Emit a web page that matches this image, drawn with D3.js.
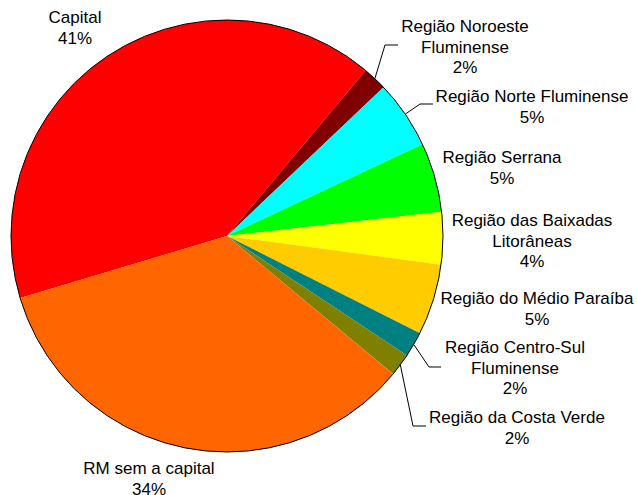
<!DOCTYPE html>
<html>
<head>
<meta charset="utf-8">
<script src="https://cdn.jsdelivr.net/npm/d3@7"></script>
<style>
  body { margin: 0; background: #fff; }
  text { font-family: Arial, "Liberation Sans", sans-serif; font-size: 17px; fill: #000; }
</style>
</head>
<body>
<div id="chart-area"></div>
<script>

// Data, clockwise from Capital
let regions = ["Capital", "Região Noroeste Fluminense", "Região Norte Fluminense", "Região Serrana",
    "Região das Baixadas Litorâneas", "Região do Médio Paraíba", "Região Centro-Sul Fluminense",
    "Região da Costa Verde", "RM sem a capital"];
let shares = [40.7, 1.8, 5.1, 5.2, 3.9, 5.3, 1.9, 1.7, 34.3];
let percentLabels = ["41%", "2%", "5%", "5%", "4%", "5%", "2%", "2%", "34%"];
let labelLines = [
    ["Capital"],
    ["Região Noroeste", "Fluminense"],
    ["Região Norte Fluminense"],
    ["Região Serrana"],
    ["Região das Baixadas", "Litorâneas"],
    ["Região do Médio Paraíba"],
    ["Região Centro-Sul", "Fluminense"],
    ["Região da Costa Verde"],
    ["RM sem a capital"]
];
let colors = ["#ff0000", "#800000", "#00ffff", "#00ff00", "#ffff00", "#ffcc00", "#008080", "#808000", "#ff6600"];

// Layout: label centre x / first baseline y, and optional leader line end (elbow x, line y, end x)
let labelPos = [
    {x: 75, y: 23},
    {x: 465, y: 32, leader: [385, 45, 398]},
    {x: 532, y: 102, leader: [420, 104, 433]},
    {x: 502, y: 163},
    {x: 532, y: 226},
    {x: 537, y: 304},
    {x: 515, y: 353, leader: [429, 367, 441]},
    {x: 517, y: 423, leader: [413, 426, 426]},
    {x: 149, y: 474}
];
let lineHeight = 20.5;

let width = 637, height = 495;
let cx = 227, cy = 236, radius = 216;

let svg = d3.select("#chart-area").append("svg")
    .attr("width", width)
    .attr("height", height);

let startDeg = 253.3 - 360;
let pie = d3.pie()
    .sort(null)
    .value(d => d)
    .startAngle(startDeg * Math.PI / 180)
    .endAngle((startDeg + 360) * Math.PI / 180);

let arc = d3.arc().innerRadius(0).outerRadius(radius);
let edgeArc = d3.arc().innerRadius(radius).outerRadius(radius);

let arcs = pie(shares);

let g = svg.append("g")
    .attr("transform", `translate(${cx},${cy})`);

g.selectAll(".slice")
    .data(arcs)
    .enter().append("path")
    .attr("class", "slice")
    .attr("d", arc)
    .attr("fill", (d, i) => colors[i]);

g.append("circle")
    .attr("r", radius)
    .attr("fill", "none")
    .attr("stroke", "#000")
    .attr("stroke-width", 1);

// leader lines
arcs.forEach((d, i) => {
    let lp = labelPos[i];
    if (!lp.leader) return;
    let c = edgeArc.centroid(d);
    let pts = [[cx + c[0], cy + c[1]], [lp.leader[0], lp.leader[1]], [lp.leader[2], lp.leader[1]]];
    svg.append("path")
        .attr("d", d3.line()(pts))
        .attr("fill", "none")
        .attr("stroke", "#000")
        .attr("stroke-width", 1);
});

// labels
arcs.forEach((d, i) => {
    let lp = labelPos[i];
    let t = svg.append("text")
        .attr("text-anchor", "middle");
    let lines = labelLines[i].concat([percentLabels[i]]);
    lines.forEach((s, j) => {
        t.append("tspan")
            .attr("x", lp.x)
            .attr("y", lp.y + j * lineHeight)
            .text(s);
    });
});
</script>
</body>
</html>
